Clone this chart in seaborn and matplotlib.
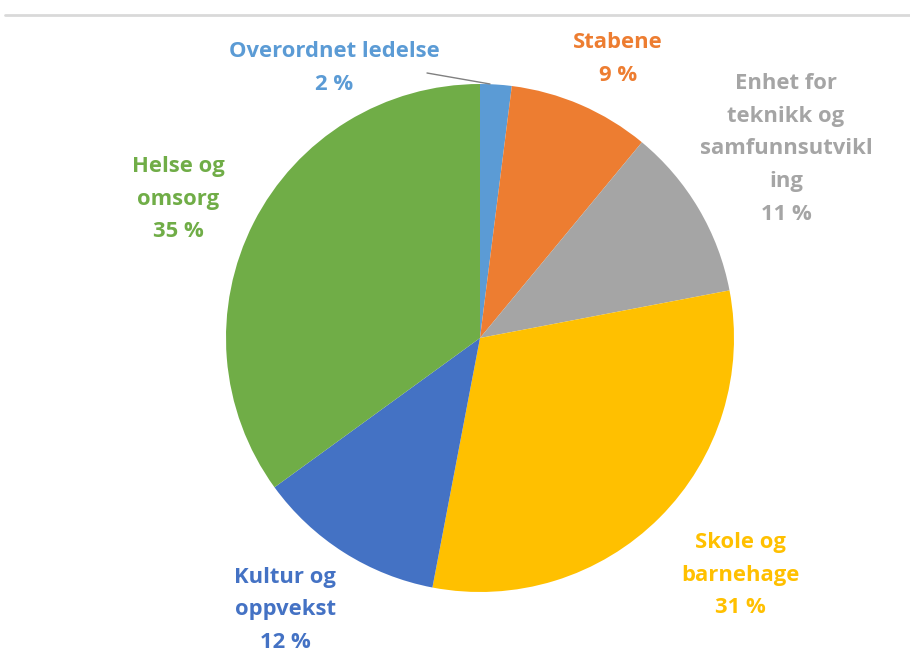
import matplotlib
matplotlib.use("Agg")
import matplotlib.pyplot as plt
from matplotlib.lines import Line2D
import seaborn as sns

# Budget share per unit (percent), clockwise from 12 o'clock
units = ["Overordnet ledelse", "Stabene", "Enhet for\nteknikk og\nsamfunnsutvikl\ning",
         "Skole og\nbarnehage", "Kultur og\noppvekst", "Helse og\nomsorg"]
shares = [2, 9, 11, 31, 12, 35]
colors = ["#5B9BD5", "#ED7D31", "#A5A5A5", "#FFC000", "#4472C4", "#70AD47"]

sns.set_theme(style="white")
plt.rcParams["font.family"] = ["Open Sans", "DejaVu Sans"]

W, H, DPI = 910, 659, 100
fig = plt.figure(figsize=(W / DPI, H / DPI), dpi=DPI)

cx, cy, r = 480, 338, 254
ax = fig.add_axes([(cx - r) / W, (H - cy - r) / H, 2 * r / W, 2 * r / H])
ax.pie(shares, colors=colors, startangle=90, counterclock=False, radius=1,
       wedgeprops=dict(linewidth=0))
ax.set_xlim(-1, 1)
ax.set_ylim(-1, 1)
ax.set_aspect("equal")
ax.axis("off")

# label centres in pixel coordinates
label_px = [(334, 68), (618, 59), (786, 149), (740, 575), (285, 610), (178, 199)]
for name, val, col, (px, py) in zip(units, shares, colors, label_px):
    fig.text(px / W, 1 - py / H, f"{name}\n{val} %", color=col, fontsize=15.8,
             fontweight="bold", ha="center", va="center", linespacing=1.72)

# leader line for the smallest slice
fig.add_artist(Line2D([427 / W, 490 / W], [1 - 73 / H, 1 - 84 / H],
                      color="#808080", linewidth=1))

# thin rule along the top
fig.add_artist(Line2D([5 / W, 1], [1 - 15 / H, 1 - 15 / H],
                      color="#D9D9D9", linewidth=2))

fig.savefig("out.png", dpi=DPI)
